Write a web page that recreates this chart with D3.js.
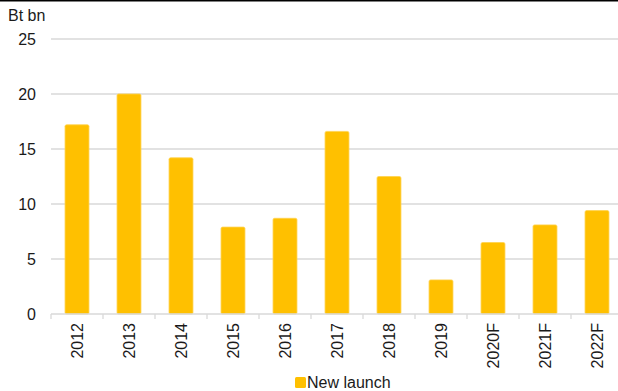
<!DOCTYPE html>
<html><head><meta charset="utf-8">
<script src="https://cdn.jsdelivr.net/npm/d3@7"></script>
<style>body{margin:0;background:#fff;}svg{display:block;font-family:"Liberation Sans",Arial,sans-serif;}</style>
</head><body>
<script>
const categories = ["2012","2013","2014","2015","2016","2017","2018","2019","2020F","2021F","2022F"];
const newLaunch = [17.2,20.0,14.2,7.9,8.7,16.6,12.5,3.1,6.5,8.1,9.4];
const yTicks = [0,5,10,15,20,25];
const seriesName = "New launch";
const unitLabel = "Bt bn";

const W=618,H=391;
const svg=d3.select("body").append("svg").attr("width",W).attr("height",H);
svg.append("rect").attr("width",W).attr("height",H).attr("fill","#fff");
svg.append("line").attr("x1",0).attr("x2",W).attr("y1",0.75).attr("y2",0.75).attr("stroke","#000").attr("stroke-width",1.5);

const x=d3.scaleBand().domain(categories).range([51,623]).paddingInner(0.54).paddingOuter(0.27);
const y=d3.scaleLinear().domain([0,25]).range([314,39]);

// gridlines
svg.append("g").selectAll("line").data(yTicks.filter(d=>d>0)).join("line")
  .attr("x1",51).attr("x2",W).attr("y1",d=>y(d)).attr("y2",d=>y(d))
  .attr("stroke","#d9d9d9").attr("stroke-width",1.3);

// bars
svg.append("g").selectAll("rect").data(newLaunch).join("rect")
  .attr("x",(d,i)=>x(categories[i])).attr("width",x.bandwidth())
  .attr("y",d=>y(d)).attr("height",d=>y(0)-y(d))
  .attr("fill","#FFC000").attr("stroke","#FFD24D").attr("stroke-width",0.8).attr("rx",1.5);

// x axis
const xStep=x.step();
const xa=svg.append("g").attr("transform",`translate(0,${y(0)})`);
xa.append("line").attr("x1",51).attr("x2",W).attr("stroke","#d9d9d9").attr("stroke-width",1.3);
xa.selectAll("line.t").data(d3.range(categories.length+1)).join("line").attr("class","t")
  .attr("x1",i=>51+i*xStep).attr("x2",i=>51+i*xStep).attr("y1",0).attr("y2",5)
  .attr("stroke","#d9d9d9").attr("stroke-width",1.3);
xa.selectAll("text").data(categories).join("text")
  .attr("transform",d=>`translate(${x(d)+x.bandwidth()/2+6},9) rotate(-90)`)
  .attr("text-anchor","end").attr("font-size",16).attr("fill","#1a1a1a").text(d=>d);

// y axis labels
svg.append("g").selectAll("text").data(yTicks).join("text")
  .attr("x",36).attr("y",d=>y(d)+6).attr("text-anchor","end")
  .attr("font-size",16).attr("fill","#1a1a1a").text(d=>d);
svg.append("text").attr("x",8).attr("y",21).attr("font-size",16).attr("fill","#1a1a1a").text(unitLabel);

// legend
svg.append("rect").attr("x",295).attr("y",377).attr("width",11).attr("height",11).attr("rx",1.5).attr("fill","#FFC000");
svg.append("text").attr("x",307).attr("y",388).attr("font-size",16).attr("fill","#1a1a1a").text(seriesName);
</script>
</body></html>
